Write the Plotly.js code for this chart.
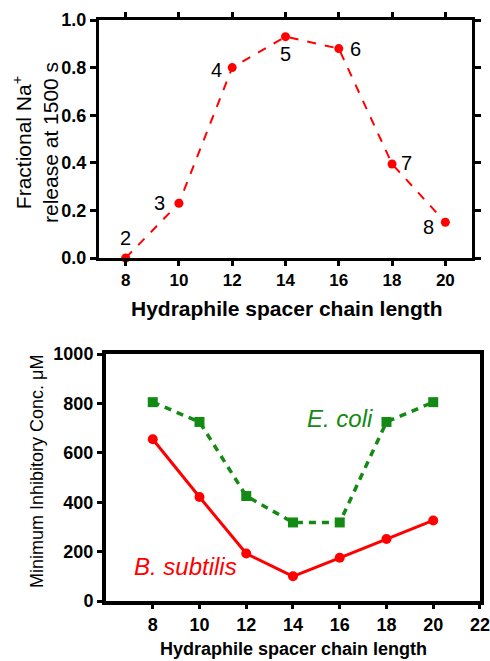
<!DOCTYPE html>
<html>
<head>
<meta charset="utf-8">
<script src="https://cdn.plot.ly/plotly-3.0.1.min.js"></script>
<style>html,body{margin:0;padding:0;background:#fff;}#chart{width:490px;height:661px;}</style>
</head>
<body>
<div id="chart"></div>
<script>
// Top panel: fractional Na+ release
var chainLength = [8, 10, 12, 14, 16, 18, 20];
var naRelease = [0.0, 0.23, 0.80, 0.93, 0.88, 0.395, 0.15];
var compoundLabels = ["2", "3", "4", "5", "6", "7", "8"];
var topYTicks = [0, 0.2, 0.4, 0.6, 0.8, 1.0];
var topYTickText = ["0.0", "0.2", "0.4", "0.6", "0.8", "1.0"];

// Bottom panel: MIC values
var micChain = [8, 10, 12, 14, 16, 18, 20];
var eColiMIC = [805, 725, 425, 318, 318, 725, 805];
var bSubtilisMIC = [655, 421, 192, 100, 175, 251, 326];
var bottomXTicks = [8, 10, 12, 14, 16, 18, 20, 22];
var bottomYTicks = [0, 200, 400, 600, 800, 1000];

var FONT = "Liberation Sans, Arial, sans-serif";
var RED = "#ff0000";
var GREEN = "#138a13";

var traces = [
  {x: chainLength, y: naRelease, type: "scatter", mode: "lines+markers",
   line: {color: RED, width: 2, dash: "dash"},
   marker: {color: RED, size: 9, symbol: "circle"},
   xaxis: "x", yaxis: "y", cliponaxis: false, showlegend: false},
  {x: micChain, y: eColiMIC, type: "scatter", mode: "lines+markers",
   line: {color: GREEN, width: 3.5, dash: "7px,6px"},
   marker: {color: GREEN, size: 10, symbol: "square"},
   xaxis: "x2", yaxis: "y2", cliponaxis: false, showlegend: false},
  {x: micChain, y: bSubtilisMIC, type: "scatter", mode: "lines+markers",
   line: {color: RED, width: 3},
   marker: {color: RED, size: 10, symbol: "circle"},
   xaxis: "x2", yaxis: "y2", cliponaxis: false, showlegend: false}
];

// label offsets (pixels) for the compound numbers
var labelShift = [[0, 20], [-19, 0], [-16, -2], [0, -17], [17, 0], [14, 1], [-17, -5]];
var annotations = [];
for (var i = 0; i < chainLength.length; i++) {
  annotations.push({x: chainLength[i], y: naRelease[i], xref: "x", yref: "y",
    text: compoundLabels[i], showarrow: false,
    xanchor: "center", yanchor: "middle",
    xshift: labelShift[i][0], yshift: labelShift[i][1],
    font: {family: FONT, size: 20, color: "#000"}});
}
function paperNote(px, py, text, size, color, angle) {
  return {x: px/490, y: 1 - py/661, xref: "paper", yref: "paper",
    xanchor: "center", yanchor: "middle", textangle: angle || 0,
    text: text, showarrow: false,
    font: {family: FONT, size: size, color: color}};
}
annotations.push(
  paperNote(35, 143, "Fractional Na<sup>+</sup><br>release at 1500 s", 21, "#000", -90),
  paperNote(287, 308, "<b>Hydraphile spacer chain length</b>", 21, "#000"),
  paperNote(37, 472, "Minimum Inhibitory Conc. μM", 18, "#000", -90),
  paperNote(293, 649, "<b>Hydraphile spacer chain length</b>", 18, "#000"),
  paperNote(340, 418, "<i>E. coli</i>", 24, GREEN),
  paperNote(185, 566, "<i>B. subtilis</i>", 24, RED)
);

var layout = {
  width: 490, height: 661,
  margin: {l: 0, r: 0, t: 0, b: 0},
  paper_bgcolor: "#fff", plot_bgcolor: "#fff",
  showlegend: false,
  xaxis: {domain: [99/490, 472/490], anchor: "y", range: [7, 21],
    tickvals: chainLength, ticks: "outside", ticklen: 5, tickwidth: 3, tickcolor: "#000",
    showline: true, linewidth: 3, linecolor: "#000", mirror: "ticks",
    showgrid: false, zeroline: false,
    tickfont: {family: FONT, size: 17, color: "#000", weight: "bold"}},
  yaxis: {domain: [1 - 258/661, 1 - 20/661], anchor: "x", range: [0, 1],
    tickvals: topYTicks, ticktext: topYTickText, ticks: "outside", ticklen: 6, tickwidth: 3, tickcolor: "#000",
    showline: true, linewidth: 3, linecolor: "#000", mirror: "ticks",
    showgrid: false, zeroline: false,
    tickfont: {family: FONT, size: 18, color: "#000", weight: "bold"}},
  xaxis2: {domain: [106/490, 480/490], anchor: "y2", range: [6, 22.001],
    tickvals: bottomXTicks, ticks: "outside", ticklen: 4, tickwidth: 3, tickcolor: "#000",
    showline: true, linewidth: 4, linecolor: "#000", mirror: true,
    showgrid: false, zeroline: false,
    tickfont: {family: FONT, size: 18, color: "#000", weight: "bold"}},
  yaxis2: {domain: [1 - 601/661, 1 - 354/661], anchor: "x2", range: [0, 1000],
    tickvals: bottomYTicks, ticks: "outside", ticklen: 5, tickwidth: 3, tickcolor: "#000",
    showline: true, linewidth: 4, linecolor: "#000", mirror: true,
    showgrid: false, zeroline: false,
    tickfont: {family: FONT, size: 18, color: "#000", weight: "bold"}},
  annotations: annotations
};

Plotly.newPlot("chart", traces, layout, {staticPlot: true, displayModeBar: false});
</script>
</body>
</html>
